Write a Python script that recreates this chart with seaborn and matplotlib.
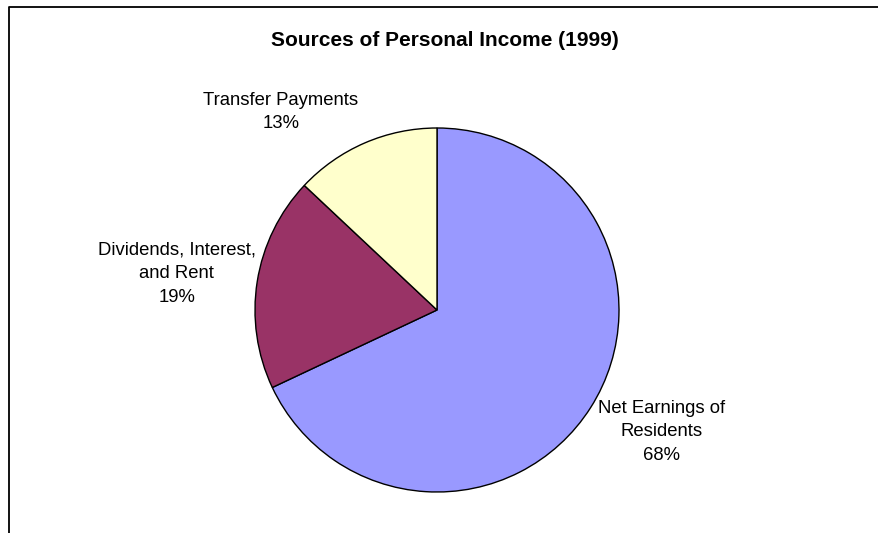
import matplotlib
matplotlib.use("Agg")
import matplotlib.pyplot as plt
from matplotlib.lines import Line2D
import seaborn as sns

# data
categories = ["Net Earnings of\nResidents", "Dividends, Interest,\nand Rent", "Transfer Payments"]
shares = [68, 19, 13]
colors = ["#9999FF", "#993366", "#FFFFCC"]

sns.set_style("white")
plt.rcParams['font.family'] = ['Liberation Sans', 'DejaVu Sans']
plt.rcParams['text.color'] = 'black'

W, H = 879, 533
fig = plt.figure(figsize=(W / 100, H / 100), dpi=100)
fig.patch.set_facecolor("white")

# pie centre (437, 310) px from top-left, radius 182 px
R = 182
cx, cy = 437, H - 310
S = 400
ax = fig.add_axes([(cx - S / 2) / W, (cy - S / 2) / H, S / W, S / H])
lim = S / 2 / R

labels = [f"{c}\n{v}%" for c, v in zip(categories, shares)]
wedges, texts = ax.pie(shares, colors=colors, startangle=90, counterclock=False,
                       labels=labels, radius=1,
                       wedgeprops={"edgecolor": "black", "linewidth": 1},
                       textprops={"fontsize": 13.3, "color": "black",
                                  "multialignment": "center", "linespacing": 1.5})
ax.set_xlim(-lim, lim)
ax.set_ylim(-lim, lim)
ax.set_aspect("equal")
ax.axis("off")

label_pos = [(1.236, -0.67), (-1.43, 0.20), (-0.857, 1.088)]
for t, (x, y) in zip(texts, label_pos):
    t.set_position((x, y))
    t.set_ha("center")
    t.set_va("center")

fig.text(445 / W, 1 - 40 / H, "Sources of Personal Income (1999)", ha="center", va="center",
         fontsize=15, fontweight="bold", color="black")

# chart frame (top and left edges visible)
fig.add_artist(Line2D([9 / W, 9 / W, 1], [0, 1 - 7 / H, 1 - 7 / H], color="black", lw=1.3))

fig.savefig("out.png", dpi=100)
